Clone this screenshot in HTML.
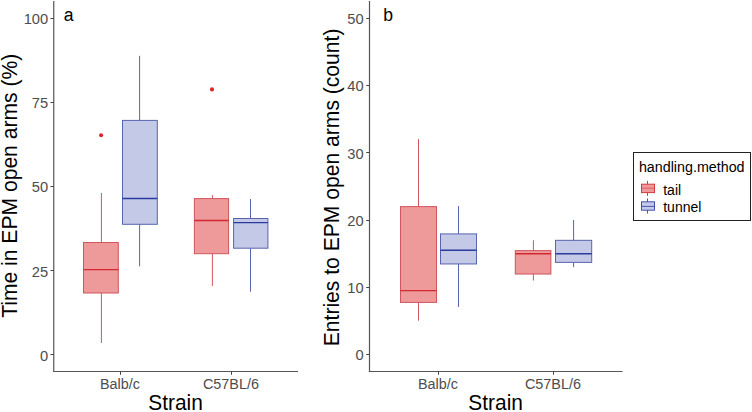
<!DOCTYPE html>
<html><head><meta charset="utf-8"><style>
html,body{margin:0;padding:0;background:#fff;}
svg{display:block;}
text{font-family:"Liberation Sans",sans-serif;}
.tk{font-size:14.7px;fill:#4D4D4D;}
.tkx{font-size:14.4px;fill:#4D4D4D;}
.ti{font-size:20.9px;fill:#000;}
.ti2{font-size:21.1px;fill:#000;}
.tag{font-size:17.6px;fill:#000;}
.lt{font-size:14.3px;fill:#000;}
.ll{font-size:14px;fill:#000;}
</style></head><body>
<svg width="752" height="412" viewBox="0 0 752 412">
<rect width="752" height="412" fill="#fff"/>
<line x1="101.4" y1="192.9" x2="101.4" y2="242.5" stroke="#D0555E" stroke-width="1.0"/>
<line x1="101.4" y1="293.0" x2="101.4" y2="343.0" stroke="#D0555E" stroke-width="1.0"/>
<rect x="83.5" y="242.5" width="34.80" height="50.50" fill="#EE999A" stroke="#D0555E" stroke-width="1.0"/>
<line x1="83.5" y1="269.6" x2="118.3" y2="269.6" stroke="#D22A2E" stroke-width="1.45"/>
<circle cx="101.1" cy="135.3" r="2.05" fill="#D8262B"/>
<line x1="139.6" y1="55.8" x2="139.6" y2="120.4" stroke="#5764B0" stroke-width="1.0"/>
<line x1="139.6" y1="224.3" x2="139.6" y2="266.3" stroke="#5764B0" stroke-width="1.0"/>
<rect x="122.5" y="120.4" width="34.80" height="103.90" fill="#C5C9E8" stroke="#5764B0" stroke-width="1.0"/>
<line x1="122.5" y1="198.4" x2="157.3" y2="198.4" stroke="#2B3A9F" stroke-width="1.45"/>
<line x1="212.4" y1="195.2" x2="212.4" y2="198.6" stroke="#D0555E" stroke-width="1.0"/>
<line x1="212.4" y1="253.7" x2="212.4" y2="286.0" stroke="#D0555E" stroke-width="1.0"/>
<rect x="194.4" y="198.6" width="34.20" height="55.10" fill="#EE999A" stroke="#D0555E" stroke-width="1.0"/>
<line x1="194.4" y1="220.5" x2="228.6" y2="220.5" stroke="#D22A2E" stroke-width="1.45"/>
<circle cx="212.0" cy="89.4" r="2.05" fill="#D8262B"/>
<line x1="250.5" y1="199.0" x2="250.5" y2="218.5" stroke="#5764B0" stroke-width="1.0"/>
<line x1="250.5" y1="248.2" x2="250.5" y2="291.7" stroke="#5764B0" stroke-width="1.0"/>
<rect x="233.6" y="218.5" width="34.30" height="29.70" fill="#C5C9E8" stroke="#5764B0" stroke-width="1.0"/>
<line x1="233.6" y1="222.6" x2="267.9" y2="222.6" stroke="#2B3A9F" stroke-width="1.45"/>
<line x1="418.5" y1="139.09599999999998" x2="418.5" y2="206.61599999999999" stroke="#D0555E" stroke-width="1.0"/>
<line x1="418.5" y1="302.4045" x2="418.5" y2="320.69" stroke="#D0555E" stroke-width="1.0"/>
<rect x="400.5" y="206.61599999999999" width="36.00" height="95.79" fill="#EE999A" stroke="#D0555E" stroke-width="1.0"/>
<line x1="400.5" y1="290.641" x2="436.5" y2="290.641" stroke="#D22A2E" stroke-width="1.45"/>
<line x1="458.5" y1="206.11599999999999" x2="458.5" y2="233.904" stroke="#5764B0" stroke-width="1.0"/>
<line x1="458.5" y1="263.953" x2="458.5" y2="306.946" stroke="#5764B0" stroke-width="1.0"/>
<rect x="440.5" y="233.904" width="36.00" height="30.05" fill="#C5C9E8" stroke="#5764B0" stroke-width="1.0"/>
<line x1="440.5" y1="250.309" x2="476.5" y2="250.309" stroke="#2B3A9F" stroke-width="1.45"/>
<line x1="533.4" y1="240.226" x2="533.4" y2="250.609" stroke="#D0555E" stroke-width="1.0"/>
<line x1="533.4" y1="274.036" x2="533.4" y2="280.558" stroke="#D0555E" stroke-width="1.0"/>
<rect x="515.3" y="250.609" width="35.60" height="23.43" fill="#EE999A" stroke="#D0555E" stroke-width="1.0"/>
<line x1="515.3" y1="253.67" x2="550.9" y2="253.67" stroke="#D22A2E" stroke-width="1.45"/>
<line x1="573.6" y1="220.06" x2="573.6" y2="240.326" stroke="#5764B0" stroke-width="1.0"/>
<line x1="573.6" y1="262.3725" x2="573.6" y2="267.114" stroke="#5764B0" stroke-width="1.0"/>
<rect x="555.5" y="240.326" width="36.20" height="22.05" fill="#C5C9E8" stroke="#5764B0" stroke-width="1.0"/>
<line x1="555.5" y1="253.67" x2="591.7" y2="253.67" stroke="#2B3A9F" stroke-width="1.45"/>
<line x1="53.75" y1="1.0" x2="53.75" y2="372.1" stroke="#555555" stroke-width="1.2"/>
<line x1="53.15" y1="371.5" x2="298.1" y2="371.5" stroke="#555555" stroke-width="1.2"/>
<line x1="120.5" y1="371.5" x2="120.5" y2="374.8" stroke="#454545" stroke-width="1.0"/>
<line x1="231.5" y1="371.5" x2="231.5" y2="374.8" stroke="#454545" stroke-width="1.0"/>
<line x1="369.5" y1="1.0" x2="369.5" y2="372.1" stroke="#555555" stroke-width="1.2"/>
<line x1="368.9" y1="371.5" x2="622.5" y2="371.5" stroke="#555555" stroke-width="1.2"/>
<line x1="438.5" y1="371.5" x2="438.5" y2="374.8" stroke="#454545" stroke-width="1.0"/>
<line x1="553.5" y1="371.5" x2="553.5" y2="374.8" stroke="#454545" stroke-width="1.0"/>
<line x1="50.45" y1="354.5" x2="53.75" y2="354.5" stroke="#454545" stroke-width="1.0"/>
<line x1="50.45" y1="270.5" x2="53.75" y2="270.5" stroke="#454545" stroke-width="1.0"/>
<line x1="50.45" y1="186.5" x2="53.75" y2="186.5" stroke="#454545" stroke-width="1.0"/>
<line x1="50.45" y1="102.5" x2="53.75" y2="102.5" stroke="#454545" stroke-width="1.0"/>
<line x1="50.45" y1="18.5" x2="53.75" y2="18.5" stroke="#454545" stroke-width="1.0"/>
<line x1="366.2" y1="354.5" x2="369.5" y2="354.5" stroke="#454545" stroke-width="1.0"/>
<line x1="366.2" y1="287.5" x2="369.5" y2="287.5" stroke="#454545" stroke-width="1.0"/>
<line x1="366.2" y1="220.5" x2="369.5" y2="220.5" stroke="#454545" stroke-width="1.0"/>
<line x1="366.2" y1="152.5" x2="369.5" y2="152.5" stroke="#454545" stroke-width="1.0"/>
<line x1="366.2" y1="85.5" x2="369.5" y2="85.5" stroke="#454545" stroke-width="1.0"/>
<line x1="366.2" y1="18.5" x2="369.5" y2="18.5" stroke="#454545" stroke-width="1.0"/>
<text transform="translate(48.20,360.80) scale(1,1.0)" class="tk" text-anchor="end">0</text>
<text transform="translate(48.20,276.64) scale(1,1.0)" class="tk" text-anchor="end">25</text>
<text transform="translate(48.20,192.48) scale(1,1.0)" class="tk" text-anchor="end">50</text>
<text transform="translate(48.20,108.31) scale(1,1.0)" class="tk" text-anchor="end">75</text>
<text transform="translate(48.20,24.15) scale(1,1.0)" class="tk" text-anchor="end">100</text>
<text transform="translate(363.70,360.30) scale(1,1.0)" class="tk" text-anchor="end">0</text>
<text transform="translate(363.70,293.08) scale(1,1.0)" class="tk" text-anchor="end">10</text>
<text transform="translate(363.70,225.86) scale(1,1.0)" class="tk" text-anchor="end">20</text>
<text transform="translate(363.70,158.64) scale(1,1.0)" class="tk" text-anchor="end">30</text>
<text transform="translate(363.70,91.42) scale(1,1.0)" class="tk" text-anchor="end">40</text>
<text transform="translate(363.70,24.20) scale(1,1.0)" class="tk" text-anchor="end">50</text>
<text transform="translate(119.90,389.00) scale(1,1.07)" class="tkx" text-anchor="middle">Balb/c</text>
<text transform="translate(230.90,389.00) scale(1,1.07)" class="tkx" text-anchor="middle">C57BL/6</text>
<text transform="translate(175.53,410.30) scale(1,1.05)" class="ti" text-anchor="middle">Strain</text>
<text transform="translate(437.90,389.00) scale(1,1.07)" class="tkx" text-anchor="middle">Balb/c</text>
<text transform="translate(552.90,389.00) scale(1,1.07)" class="tkx" text-anchor="middle">C57BL/6</text>
<text transform="translate(495.60,410.30) scale(1,1.05)" class="ti" text-anchor="middle">Strain</text>
<text transform="translate(17.4,185.8) rotate(-90) scale(1,1.07)" class="ti2" text-anchor="middle">Time in EPM open arms (%)</text>
<text transform="translate(339.4,187.4) rotate(-90) scale(1,1.07)" class="ti2" text-anchor="middle">Entries to EPM open arms (count)</text>
<text x="63.7" y="20.6" class="tag">a</text>
<text x="383.2" y="20.6" class="tag">b</text>
<rect x="633.5" y="152.5" width="117" height="68" fill="none" stroke="#222" stroke-width="1.0"/>
<text transform="translate(638.90,171.80) scale(1,1.04)" class="lt" text-anchor="start">handling.method</text>
<line x1="647.5" y1="180.9" x2="647.5" y2="195.9" stroke="#D43A40" stroke-width="1.0"/>
<rect x="641.5" y="184.20000000000002" width="13" height="8.4" fill="#EE999A" stroke="#D43A40" stroke-width="1.0"/>
<line x1="641.5" y1="188.20000000000002" x2="654.5" y2="188.20000000000002" stroke="#D22A2E" stroke-width="1.0" stroke-opacity="0.5"/>
<line x1="647.5" y1="198.5" x2="647.5" y2="213.5" stroke="#4453AA" stroke-width="1.0"/>
<rect x="641.5" y="201.8" width="13" height="8.4" fill="#C5C9E8" stroke="#4453AA" stroke-width="1.0"/>
<line x1="641.5" y1="206.4" x2="654.5" y2="206.4" stroke="#2B3A9F" stroke-width="1.0" stroke-opacity="0.8"/>
<text transform="translate(663.20,194.60) scale(1,1.0)" class="ll" text-anchor="start">tail</text>
<text transform="translate(663.20,211.90) scale(1,1.0)" class="ll" text-anchor="start">tunnel</text>
</svg>
</body></html>
